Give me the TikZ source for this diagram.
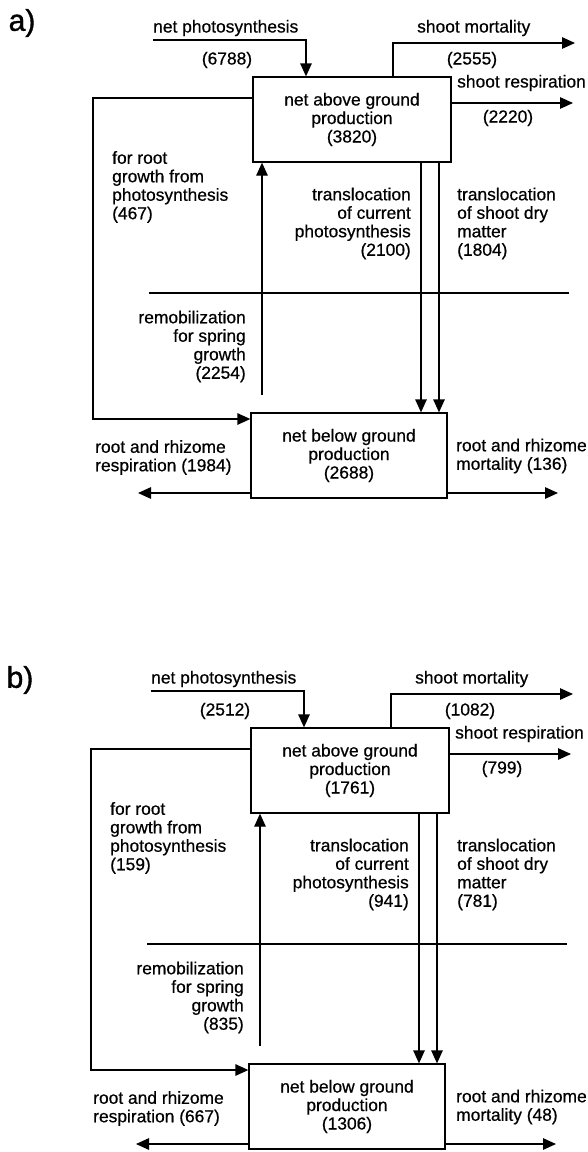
\documentclass[tikz,border=0pt]{standalone}
\usepackage{fontspec}
\setmainfont{Liberation Sans}
\newfontfamily\thickf{Liberation Sans}[FakeBold=0.6]
\newfontfamily\pnlf{Liberation Sans}[FakeBold=1.2]
\usetikzlibrary{arrows.meta}
\newcommand\lbfont{\thickf\fontsize{17.4}{18.5}\selectfont}
\newcommand\pnfont{\pnlf\fontsize{30}{32}\selectfont}
\tikzset{
  ln/.style={line width=1.3pt},
  arr/.style={ln, -{Triangle[length=13pt,width=11.5pt]}},
  box/.style={draw, line width=1.3pt, align=center, inner sep=0pt, font=\lbfont},
  lbl/.style={inner sep=0pt, font=\lbfont},
  pnl/.style={inner sep=0pt, font=\pnfont}
}
\begin{document}
\begin{tikzpicture}[x=1pt,y=-1pt]
\useasboundingbox (0,0) rectangle (588,1152);
% ---------------- panel a ----------------
\begin{scope}[name prefix=a-]
\node[pnl] (lab) at (22,23) {a)};
\node[box, minimum width=198pt, minimum height=85pt] (above) at (352,119.5) {net above ground\\production\\(3820)};
\node[box, minimum width=196pt, minimum height=85pt] (below) at (349,455.5) {net below ground\\production\\(2688)};
\coordinate (pA) at (153,40); \coordinate (pB) at (306,40);
\coordinate (mA) at (393,43); \coordinate (mE) at (575,43);
\coordinate (rE) at (573,103);
\coordinate (L1) at (93,98); \coordinate (L2) at (93,419);
\coordinate (U0) at (262,395);
\coordinate (D1) at (421,0); \coordinate (D2) at (439,0);
\coordinate (dv1) at (149,293); \coordinate (dv2) at (569,293);
\coordinate (lE) at (138,493); \coordinate (rE2) at (558,493);
\node[lbl, anchor=west] (t1) at (153,28) {net photosynthesis};
\node[lbl] (t2) at (227,60) {(6788)};
\node[lbl, anchor=west] (t3) at (417,28) {shoot mortality};
\node[lbl] (t4) at (472,60) {(2555)};
\node[lbl, anchor=west] (t5) at (457,83) {shoot respiration};
\node[lbl] (t6) at (508,118) {(2220)};
\node[lbl, anchor=west, align=left] (t7) at (112,187) {for root\\growth from\\photosynthesis\\(467)};
\node[lbl, anchor=east, align=right] (t8) at (246,346.5) {remobilization\\for spring\\growth\\(2254)};
\node[lbl, anchor=east, align=right] (t9) at (411,223.5) {translocation\\of current\\photosynthesis\\(2100)};
\node[lbl, anchor=west, align=left] (t10) at (457,223.5) {translocation\\of shoot dry\\matter\\(1804)};
\node[lbl, anchor=west, align=left] (t11) at (95,457.5) {root and rhizome\\respiration (1984)};
\node[lbl, anchor=west, align=left] (t12) at (456,456) {root and rhizome\\mortality (136)};
\draw[arr] (pA) -- (pB) -- (pB |- above.north);
\draw[arr] (above.north -| mA) -- (mA) -- (mE);
\draw[arr] (above.east |- rE) -- (rE);
\draw[arr] (above.west |- L1) -- (L1) -- (L2) -- (below.west |- L2);
\draw[arr] (U0) -- (above.south -| U0);
\draw[arr] (above.south -| D1) -- (below.north -| D1);
\draw[arr] (above.south -| D2) -- (below.north -| D2);
\draw[ln] (dv1) -- (dv2);
\draw[arr] (below.west |- lE) -- (lE);
\draw[arr] (below.east |- rE2) -- (rE2);
\end{scope}
% ---------------- panel b ----------------
\begin{scope}[name prefix=b-, shift={(-2,651)}]
\node[pnl] (lab) at (22,29) {b)};
\node[box, minimum width=198pt, minimum height=85pt] (above) at (352,119.5) {net above ground\\production\\(1761)};
\node[box, minimum width=196pt, minimum height=85pt] (below) at (349,455.5) {net below ground\\production\\(1306)};
\coordinate (pA) at (153,40); \coordinate (pB) at (306,40);
\coordinate (mA) at (393,43); \coordinate (mE) at (575,43);
\coordinate (rE) at (573,103);
\coordinate (L1) at (93,98); \coordinate (L2) at (93,419);
\coordinate (U0) at (262,395);
\coordinate (D1) at (421,0); \coordinate (D2) at (439,0);
\coordinate (dv1) at (149,293); \coordinate (dv2) at (569,293);
\coordinate (lE) at (138,493); \coordinate (rE2) at (558,493);
\node[lbl, anchor=west] (t1) at (153,28) {net photosynthesis};
\node[lbl] (t2) at (227,60) {(2512)};
\node[lbl, anchor=west] (t3) at (417,28) {shoot mortality};
\node[lbl] (t4) at (472,60) {(1082)};
\node[lbl, anchor=west] (t5) at (457,83) {shoot respiration};
\node[lbl] (t6) at (504,118) {(799)};
\node[lbl, anchor=west, align=left] (t7) at (112,187) {for root\\growth from\\photosynthesis\\(159)};
\node[lbl, anchor=east, align=right] (t8) at (246,346.5) {remobilization\\for spring\\growth\\(835)};
\node[lbl, anchor=east, align=right] (t9) at (411,223.5) {translocation\\of current\\photosynthesis\\(941)};
\node[lbl, anchor=west, align=left] (t10) at (459,223.5) {translocation\\of shoot dry\\matter\\(781)};
\node[lbl, anchor=west, align=left] (t11) at (95,457.5) {root and rhizome\\respiration (667)};
\node[lbl, anchor=west, align=left] (t12) at (458,456) {root and rhizome\\mortality (48)};
\draw[arr] (pA) -- (pB) -- (pB |- above.north);
\draw[arr] (above.north -| mA) -- (mA) -- (mE);
\draw[arr] (above.east |- rE) -- (rE);
\draw[arr] (above.west |- L1) -- (L1) -- (L2) -- (below.west |- L2);
\draw[arr] (U0) -- (above.south -| U0);
\draw[arr] (above.south -| D1) -- (below.north -| D1);
\draw[arr] (above.south -| D2) -- (below.north -| D2);
\draw[ln] (dv1) -- (dv2);
\draw[arr] (below.west |- lE) -- (lE);
\draw[arr] (below.east |- rE2) -- (rE2);
\end{scope}
\end{tikzpicture}
\end{document}
